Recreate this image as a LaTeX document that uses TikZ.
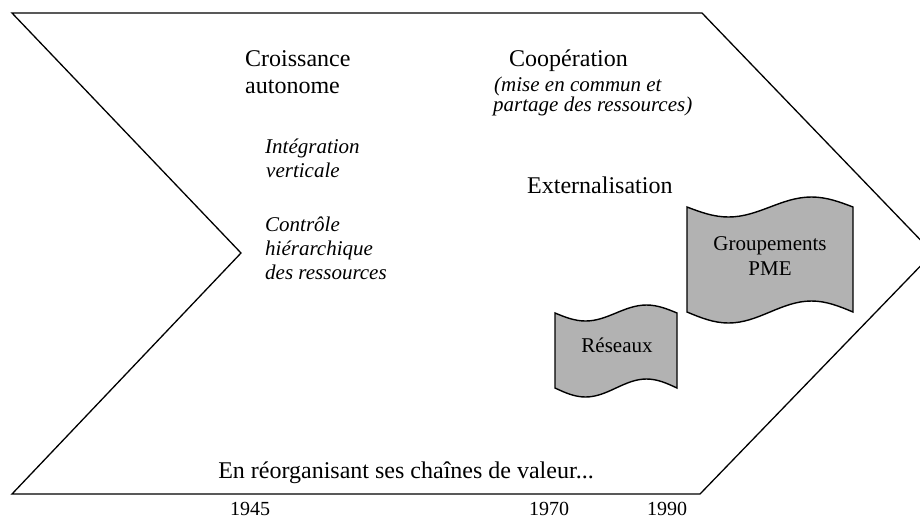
\documentclass[tikz,border=0pt]{standalone}
\usepackage{fontspec}
\setmainfont{Liberation Serif}
\definecolor{tapegray}{RGB}{178,178,178}
\tikzset{
  big/.style={inner sep=0pt,font=\fontsize{24}{26}\selectfont},
  ital/.style={inner sep=0pt,font=\fontsize{21}{23}\selectfont\itshape},
  tapetxt/.style={inner sep=0pt,font=\fontsize{21}{23}\selectfont},
  yeartxt/.style={inner sep=0pt,font=\fontsize{20}{22}\selectfont},
  outline/.style={line width=1.3pt,line join=miter},
  tapebox/.style={line width=1.4pt,fill=tapegray,draw=black}
}
\begin{document}
\begin{tikzpicture}[x=1pt,y=-1pt]
\useasboundingbox (0,0) rectangle (920,520);
\begin{scope}
\clip (0,0) rectangle (920,520);
% chevron
\coordinate (tl) at (12,13);
\coordinate (tr) at (702,13);
\coordinate (tip) at (933,253);
\coordinate (br) at (700,494);
\coordinate (bl) at (12,494);
\coordinate (notch) at (241,253);
\draw[outline] (tl) -- (tr) -- (tip) -- (br) -- (bl) -- (notch) -- cycle;

% tape: Groupements PME
\draw[tapebox] (687,207) sin (728.5,217) cos (770,207) sin (811.5,197) cos (853,207)
  -- (853,312) sin (811.5,301) cos (770,312) sin (728.5,323) cos (687,312) -- cycle;
% tape: Reseaux
\draw[tapebox] (555,313) sin (585.5,321) cos (616,313) sin (646.5,305) cos (677,313)
  -- (677,388) sin (646.5,379) cos (616,388) sin (585.5,397) cos (555,388) -- cycle;
\end{scope}

% texts
\node[big,anchor=base west] (cr1) at (245,66.7) {Croissance};
\node[big,anchor=base west] (cr2) at (245,93.3) {autonome};
\node[ital,anchor=base west] (in1) at (265,153) {Intégration};
\node[ital,anchor=base west] (in2) at (266,177) {verticale};
\node[ital,anchor=base west] (ct1) at (265,231) {Contrôle};
\node[ital,anchor=base west] (ct2) at (265,255) {hiérarchique};
\node[ital,anchor=base west] (ct3) at (265,279) {des ressources};
\node[big,anchor=base west] (coop) at (509,66.5) {Coopération};
\node[ital,anchor=base west] (mi1) at (494,91.5) {(mise en commun et};
\node[ital,anchor=base west] (mi2) at (493,111.5) {partage des ressources)};
\node[big,anchor=base west] (ext) at (527,193) {Externalisation};
\node[tapetxt,anchor=base] (grp1) at (770,250) {Groupements};
\node[tapetxt,anchor=base] (grp2) at (770,275) {PME};
\node[tapetxt,anchor=base] (res) at (617,352) {Réseaux};
\node[big,anchor=base] (reorg) at (406,478) {En réorganisant ses chaînes de valeur...};
\node[yeartxt,anchor=base] (y1) at (250,515) {1945};
\node[yeartxt,anchor=base] (y2) at (549,515) {1970};
\node[yeartxt,anchor=base] (y3) at (667,515) {1990};
\end{tikzpicture}
\end{document}
